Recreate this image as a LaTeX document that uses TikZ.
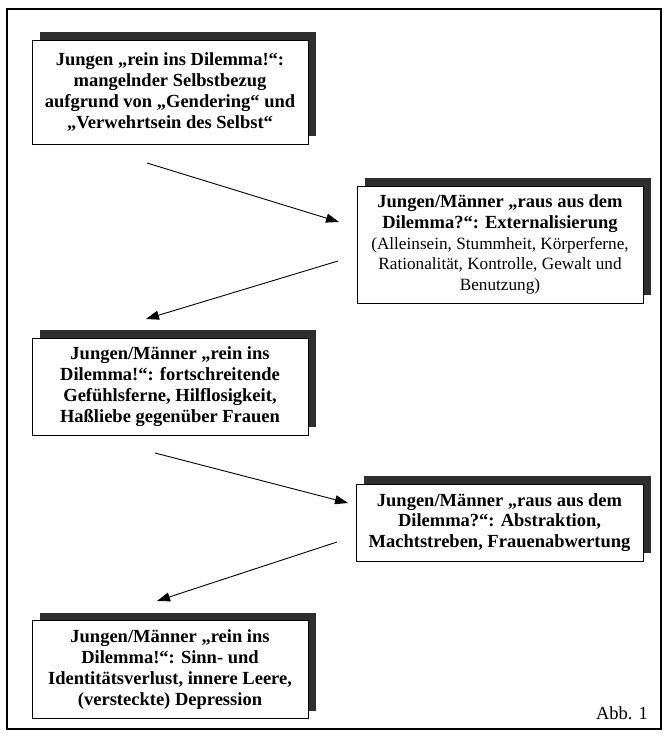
\documentclass[tikz,border=0pt]{standalone}
\usepackage{fontspec}
\setmainfont{Liberation Serif}
\usetikzlibrary{arrows.meta,shadows}
\newcommand{\regline}[1]{{\fontsize{17.2}{20.6}\selectfont #1}}
\begin{document}
\begin{tikzpicture}[x=1pt,y=-1pt,
  every node/.style={font=\fontsize{18.5}{20.8}\selectfont},
  stagebox/.style={draw=black, line width=0.9pt, fill=white, align=center, inner sep=2pt,
    drop shadow={shadow xshift=8pt, shadow yshift=8pt, fill=black!82, opacity=1}},
  flow/.style={line width=0.9pt, -{Triangle[length=13pt,width=9pt]}}]
\useasboundingbox (0,0) rectangle (668,736);
\fill[white] (0,0) rectangle (668,736);
\draw[line width=1.3pt] (7,9) rectangle (661,729);

\node[stagebox, minimum width=276pt, minimum height=104pt] (b1) at (170,92)
  {\textbf{Jungen „rein ins Dilemma!“:}\\ \textbf{mangelnder Selbstbezug}\\ \textbf{aufgrund von „Gendering“ und}\\ \textbf{„Verwehrtsein des Selbst“}};
\node[stagebox, minimum width=286pt, minimum height=117pt] (b2) at (500,244.5)
  {\textbf{Jungen/Männer „raus aus dem}\\ \textbf{Dilemma?“: Externalisierung}\\ \regline{(Alleinsein, Stummheit, Körperferne,}\\ \regline{Rationalität, Kontrolle, Gewalt und}\\ \regline{Benutzung)}};
\node[stagebox, minimum width=276pt, minimum height=97pt] (b3) at (170,386.5)
  {\textbf{Jungen/Männer „rein ins}\\ \textbf{Dilemma!“: fortschreitende}\\ \textbf{Gefühlsferne, Hilflosigkeit,}\\ \textbf{Haßliebe gegenüber Frauen}};
\node[stagebox, minimum width=287pt, minimum height=77pt] (b4) at (499.5,522.5)
  {\textbf{Jungen/Männer „raus aus dem}\\ \textbf{Dilemma?“: Abstraktion,}\\ \textbf{Machtstreben, Frauenabwertung}};
\node[stagebox, minimum width=276pt, minimum height=98pt] (b5) at (170,669.5)
  {\textbf{Jungen/Männer „rein ins}\\ \textbf{Dilemma!“: Sinn- und}\\ \textbf{Identitätsverlust, innere Leere,}\\ \textbf{(versteckte) Depression}};
\node[anchor=base] (abb) at (622,719) {Abb. 1};

\coordinate (a1s) at (147,163);
\coordinate (a1e) at (339,222);
\coordinate (a2s) at (338,261);
\coordinate (a2e) at (146,319);
\coordinate (a3s) at (155,453);
\coordinate (a3e) at (348,503);
\coordinate (a4s) at (337,542);
\coordinate (a4e) at (157,601);
\draw[flow] (a1s) -- (a1e);
\draw[flow] (a2s) -- (a2e);
\draw[flow] (a3s) -- (a3e);
\draw[flow] (a4s) -- (a4e);
\end{tikzpicture}
\end{document}
